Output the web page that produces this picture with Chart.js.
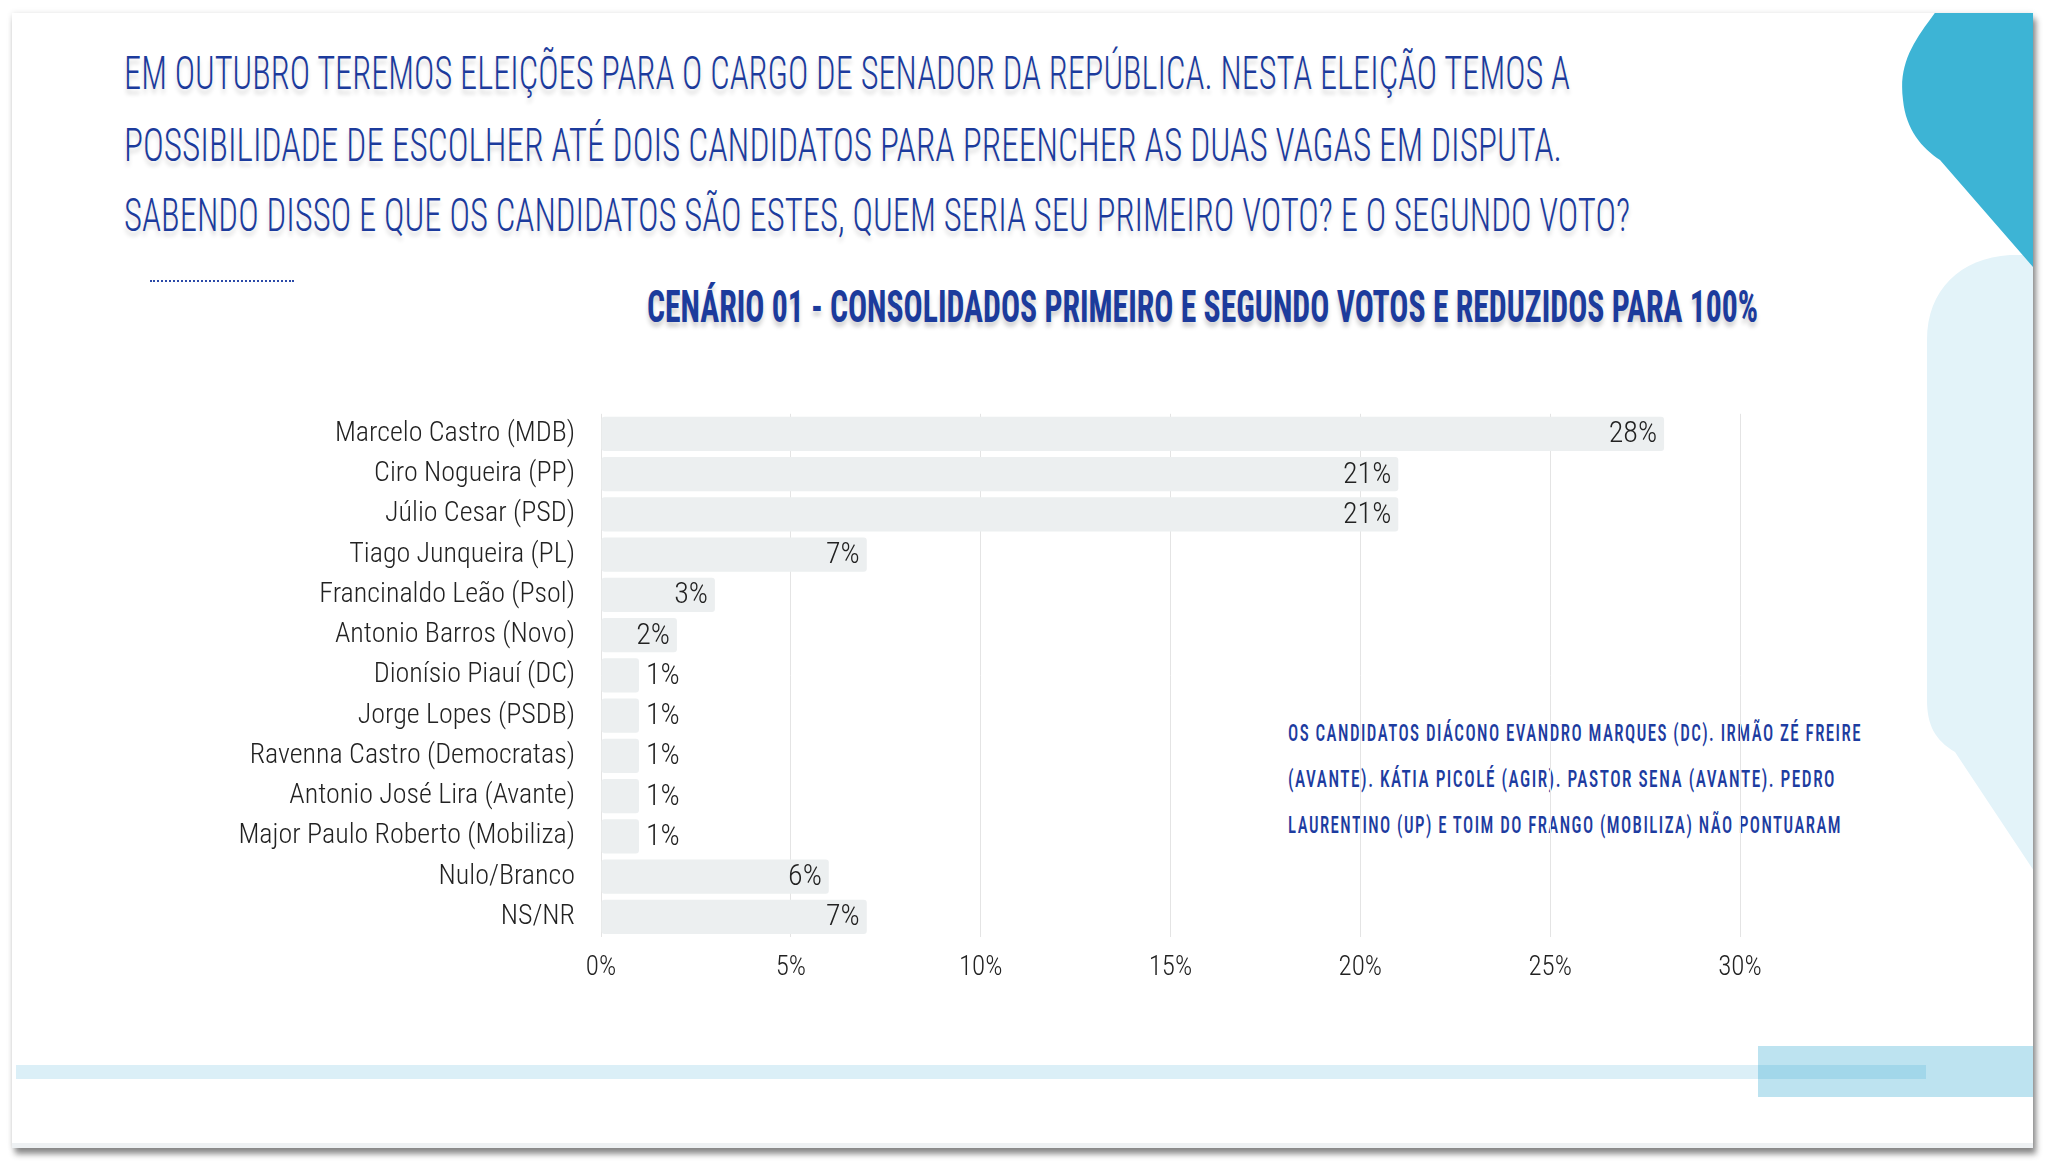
<!DOCTYPE html>
<html>
<head>
<meta charset="utf-8">
<script src="https://cdn.jsdelivr.net/npm/chart.js@4.4.1/dist/chart.umd.min.js"></script>
<style>
  html, body { margin:0; padding:0; }
  body { width:2050px; height:1162px; background:#ffffff; position:relative; overflow:hidden; }
  #card { position:absolute; left:12px; top:13px; width:2021px; height:1135px; background:#fff;
          box-shadow: 3px 6px 6px rgba(0,0,0,0.45), 0 0 6px rgba(0,0,0,0.10); }
  .fit { position:absolute; white-space:nowrap; transform-origin:0 0; line-height:1; }
  .title { font-family:'Roboto Condensed',Roboto,sans-serif; font-weight:300;
           color:#1c3b9c; font-size:46px; text-shadow:0 5px 5px rgba(0,0,0,0.15); }
  .sub { font-family:'Roboto Condensed',Roboto,sans-serif; font-weight:bold;
         color:#1c3b9c; font-size:44px; text-shadow:0 5px 5px rgba(0,0,0,0.18); }
  .note { font-family:'Roboto Condensed',Roboto,sans-serif; font-weight:500;
          color:#1d3ca0; font-size:23px; letter-spacing:2px; }
  #dots { position:absolute; left:150px; top:280px; width:144px; border-top:2px dotted #2b4aa8; height:0; }
  #chartBox { position:absolute; left:0; top:371px; width:1800px; height:629px; }
</style>
</head>
<body>
<div id="card"></div>
<svg width="2050" height="1162" style="position:absolute;left:0;top:0">
  <defs><clipPath id="cc"><rect x="12" y="13" width="2021" height="1135"/></clipPath></defs>
  <g clip-path="url(#cc)">
    <path d="M2040,255 L2010,255 C1960,258 1927,290 1927,340 L1927,700 C1927,725 1935,740 1955,752 L2040,880 Z" fill="#e3f3f9"/>
    <path d="M1937,10 C1915,40 1898,62 1903,100 C1906,130 1922,148 1940,160 L2040,275 L2040,10 Z" fill="#3db4d5"/>
    <rect x="1758" y="1046" width="280" height="51" fill="#bde3f0"/>
    <rect x="16" y="1065" width="1910" height="14" fill="rgba(15,148,200,0.15)"/>
    <rect x="12" y="1143" width="2021" height="5" fill="#eef1f3"/>
  </g>
</svg>

<div class="fit title" data-w="1446" data-cy="72" data-x="124">EM OUTUBRO TEREMOS ELEIÇÕES PARA O CARGO DE SENADOR DA REPÚBLICA. NESTA ELEIÇÃO TEMOS A</div>
<div class="fit title" data-w="1438" data-cy="144" data-x="124">POSSIBILIDADE DE ESCOLHER ATÉ DOIS CANDIDATOS PARA PREENCHER AS DUAS VAGAS EM DISPUTA.</div>
<div class="fit title" data-w="1506" data-cy="214" data-x="124">SABENDO DISSO E QUE OS CANDIDATOS SÃO ESTES, QUEM SERIA SEU PRIMEIRO VOTO? E O SEGUNDO VOTO?</div>
<div id="dots"></div>
<div class="fit sub" data-w="1111" data-cy="306" data-x="647">CENÁRIO 01 - CONSOLIDADOS PRIMEIRO E SEGUNDO VOTOS E REDUZIDOS PARA 100%</div>
<div class="fit note" data-w="574" data-cy="733" data-x="1288">OS CANDIDATOS DIÁCONO EVANDRO MARQUES (DC). IRMÃO ZÉ FREIRE</div>
<div class="fit note" data-w="548" data-cy="779" data-x="1288">(AVANTE). KÁTIA PICOLÉ (AGIR). PASTOR SENA (AVANTE). PEDRO</div>
<div class="fit note" data-w="554" data-cy="825" data-x="1288">LAURENTINO (UP) E TOIM DO FRANGO (MOBILIZA) NÃO PONTUARAM</div>

<div id="chartBox"><canvas id="c"></canvas></div>

<script>
// ---- data ----
const categories = [
  'Marcelo Castro (MDB)', 'Ciro Nogueira (PP)', 'Júlio Cesar (PSD)', 'Tiago Junqueira (PL)',
  'Francinaldo Leão (Psol)', 'Antonio Barros (Novo)', 'Dionísio Piauí (DC)', 'Jorge Lopes (PSDB)',
  'Ravenna Castro (Democratas)', 'Antonio José Lira (Avante)', 'Major Paulo Roberto (Mobiliza)',
  'Nulo/Branco', 'NS/NR'
];
const values = [28, 21, 21, 7, 3, 2, 1, 1, 1, 1, 1, 6, 7];
const tickValues = [0, 5, 10, 15, 20, 25, 30];
const tickLabels = ['0%', '5%', '10%', '15%', '20%', '25%', '30%'];

// ---- fit HTML text lines ----
document.querySelectorAll('.fit').forEach(el => {
  const fs = parseFloat(getComputedStyle(el).fontSize);
  const w = el.getBoundingClientRect().width;
  const target = parseFloat(el.dataset.w);
  el.style.left = el.dataset.x + 'px';
  el.style.top = (parseFloat(el.dataset.cy) - 0.482 * fs) + 'px';
  el.style.transform = 'scaleX(' + (target / w) + ')';
});

const FONT = "'Roboto Condensed',Roboto,sans-serif";

const valueLabels = {
  id: 'valueLabels',
  afterDatasetsDraw(chart) {
    const ctx = chart.ctx;
    const meta = chart.getDatasetMeta(0);
    ctx.save();
    ctx.font = '300 30px ' + FONT;
    ctx.fillStyle = '#222222';
    ctx.textBaseline = 'middle';
    meta.data.forEach((bar, i) => {
      const v = values[i];
      const txt = v + '%';
      if (v >= 2) { ctx.textAlign = 'right'; ctx.fillText(txt, bar.x - 7, bar.y + 1); }
      else { ctx.textAlign = 'left'; ctx.fillText(txt, bar.x + 7, bar.y + 1); }
    });
    ctx.restore();
  }
};

new Chart(document.getElementById('c'), {
  type: 'bar',
  data: {
    labels: categories,
    datasets: [{
      data: values,
      backgroundColor: '#eceff0',
      borderRadius: 3,
      borderSkipped: false,
      barPercentage: 0.85,
      categoryPercentage: 1.0
    }]
  },
  options: {
    indexAxis: 'y',
    responsive: true,
    maintainAspectRatio: false,
    animation: false,
    layout: { padding: { top: 20, right: 60, left: 0, bottom: 0 } },
    plugins: { legend: { display: false }, tooltip: { enabled: false } },
    scales: {
      x: {
        min: 0, max: 30,
        afterFit(s) { s.height = 63; },
        afterBuildTicks(s) { s.ticks = tickValues.map(v => ({ value: v })); },
        grid: { color: '#e4e4e4', lineWidth: 1, drawTicks: false },
        border: { display: false },
        ticks: {
          padding: 15,
          color: '#222222',
          font: { family: FONT, size: 27, weight: '300' },
          callback: (v) => tickLabels[tickValues.indexOf(v)]
        }
      },
      y: {
        afterFit(s) { s.width = 601; },
        grid: { display: false, drawTicks: false },
        border: { display: false },
        ticks: {
          padding: 26,
          color: '#222222',
          font: { family: FONT, size: 28, weight: '300' }
        }
      }
    }
  },
  plugins: [valueLabels]
});
</script>
</body>
</html>
